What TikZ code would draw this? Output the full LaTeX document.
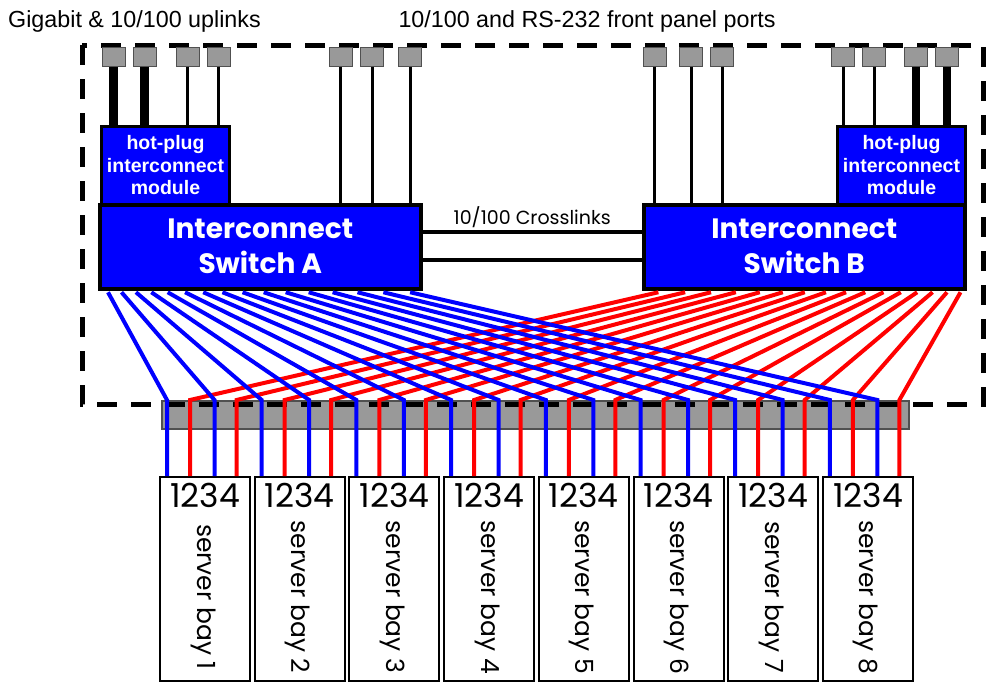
\documentclass[tikz,border=0pt]{standalone}
\usepackage{fontspec}
\setmainfont{Liberation Sans}
\newfontfamily\geofont{Poppins}
\usetikzlibrary{calc,positioning}
\definecolor{switchblue}{HTML}{0000FF}
\definecolor{linkred}{HTML}{FF0000}
\definecolor{portgray}{HTML}{999999}
\definecolor{portedge}{HTML}{505050}
\tikzset{
  enclosure/.style={black, line width=5pt, dash pattern=on 20pt off 14pt},
  toplabel/.style={font=\fontsize{23.3}{27}\selectfont, inner sep=0pt},
  switchbox/.style={draw=black, line width=3.5pt, fill=switchblue, text=white, anchor=north west, minimum width=321pt, minimum height=84pt, align=center, inner sep=0pt, font=\geofont\bfseries\fontsize{28}{35}\selectfont},
  hotplug/.style={draw=black, line width=3pt, fill=switchblue, text=white, anchor=north west, minimum width=128pt, minimum height=78pt, align=center, inner sep=0pt, font=\bfseries\fontsize{19.5}{22.5}\selectfont},
  port/.style={draw=portedge, line width=1pt, fill=portgray, minimum width=23pt, minimum height=19pt, inner sep=0pt},
  uplink/.style={black, line width=3pt},
  gigalink/.style={black, line width=8.5pt},
  crosslink/.style={black, line width=3.5pt},
  crosslabel/.style={font=\geofont\fontsize{19}{22}\selectfont, inner sep=0pt},
  backplane/.style={draw=portedge, line width=1.5pt, fill=portgray, anchor=north west, minimum width=747pt, minimum height=28pt, inner sep=0pt},
  baybox/.style={draw=black, line width=2pt, fill=white, anchor=north west, minimum width=90pt, minimum height=204pt, inner sep=0pt},
  baydigits/.style={font=\geofont\fontsize{33}{33}\selectfont, inner sep=0pt, anchor=base},
  baylabel/.style={font=\geofont\fontsize{25}{25}\selectfont, rotate=-90, inner sep=0pt, anchor=base},
  bluewire/.style={switchblue, line width=4pt},
  redwire/.style={linkred, line width=4pt}
}

\begin{document}
\begin{tikzpicture}[x=1pt,y=-1pt]
  \useasboundingbox (0,0) rectangle (994,681);
  \node[backplane] (bp) at (161,400) {};
  \draw[enclosure] (82,45) rectangle (983.5,404);
  % server bays with their four taps
  \foreach \b in {1,...,8} {
    \pgfmathsetmacro{\bx}{159+94.7*(\b-1)}
    \node[baybox] (bay\b) at (\bx,476) {};
    \node[baydigits] (num\b) at ($(bay\b.north)+(0,31)$) {1234};
    \node[baylabel] (lbl\b) at ($(bay\b.center)+(-8,18)$) {server bay \b};
    \foreach \p/\off in {1/8,2/31,3/55.5,4/77.5}
      \coordinate (bay\b-\p) at ($(bay\b.north west)+(\off,0)$);
  }
  % switches and hot-plug modules
  \node[switchbox] (swA) at (98,203) {Interconnect\\Switch A};
  \node[switchbox] (swB) at (642,203) {Interconnect\\Switch B};
  \node[hotplug] (hpA) at (100,125) {hot-plug\\interconnect\\module};
  \node[hotplug] (hpB) at (836,125) {hot-plug\\interconnect\\module};
  % switch to server bay wiring
  \foreach \i in {0,...,15} {
    \pgfmathtruncatemacro{\b}{int(\i/2)+1}
    \pgfmathtruncatemacro{\p}{mod(\i,2)*2+1}
    \pgfmathtruncatemacro{\q}{\p+1}
    \pgfmathsetmacro{\exa}{10+13.03*\i+0.474*\i*\i}
    \pgfmathsetmacro{\exb}{6+13.03*(15-\i)+0.474*(15-\i)*(15-\i)}
    \draw[bluewire] ($(swA.south west)+(\exa,1.75)$) -- (bay\b-\p |- bp.north) -- (bay\b-\p);
    \draw[redwire] ($(swB.south east)+(-\exb,1.75)$) -- (bay\b-\q |- bp.north) -- (bay\b-\q);
  }
  % crosslinks
  \draw[crosslink] ($(swA.east)+(0,-15)$) -- ($(swB.west)+(0,-15)$);
  \draw[crosslink] ($(swA.east)+(0,13)$) -- ($(swB.west)+(0,13)$);
  \node[crosslabel, anchor=base] (xlabel) at ($(swA.east)!0.5!(swB.west)+(0,-22)$) {10/100 Crosslinks};
  % front panel ports
  \foreach \pname/\px/\kind/\dest in {upl1/113.7/gigalink/hpA, upl2/144.5/gigalink/hpA, upl3/187.5/uplink/hpA, upl4/218.5/uplink/hpA,
      fpa1/340.5/uplink/swA, fpa2/372/uplink/swA, fpa3/410/uplink/swA,
      fpb1/654.7/uplink/swB, fpb2/691/uplink/swB, fpb3/722/uplink/swB,
      upr1/843/uplink/hpB, upr2/874/uplink/hpB, upr3/916/gigalink/hpB, upr4/947/gigalink/hpB} {
    \node[port] (\pname) at (\px,56.5) {};
    \draw[\kind] (\pname.south) -- (\pname.south |- \dest.north);
  }
  \node[toplabel, anchor=base west] (uplinks) at (8,27) {Gigabit \& 10/100 uplinks};
  \node[toplabel, anchor=base] (fpports) at (587,27) {10/100 and RS-232 front panel ports};
\end{tikzpicture}
\end{document}
